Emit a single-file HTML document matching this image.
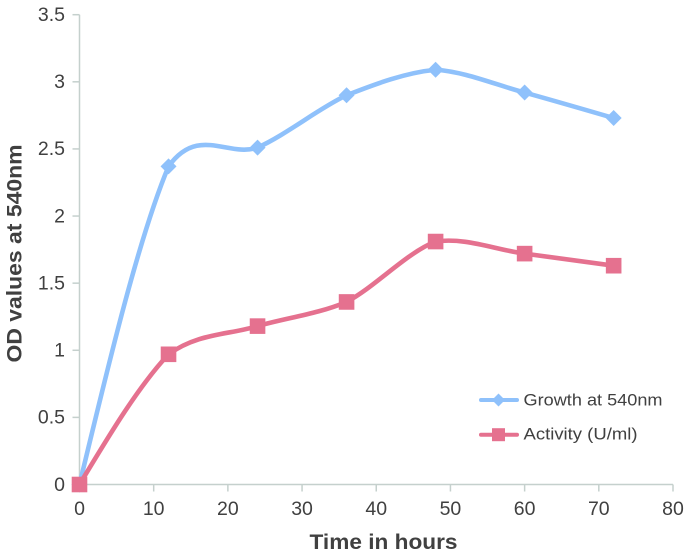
<!DOCTYPE html>
<html>
<head>
<meta charset="utf-8">
<style>
html,body{margin:0;padding:0;background:#fff;width:685px;height:558px;overflow:hidden}
svg{display:block;font-family:"Liberation Sans",sans-serif}
</style>
</head>
<body>
<svg id="chart" width="685" height="558" viewBox="0 0 685 558" xmlns="http://www.w3.org/2000/svg"></svg>
<script>
const hours = [0, 12, 24, 36, 48, 60, 72];
const growthValues = [0, 2.37, 2.51, 2.90, 3.09, 2.92, 2.73];
const activityValues = [0, 0.97, 1.18, 1.36, 1.81, 1.72, 1.63];
const xTicks = [0, 10, 20, 30, 40, 50, 60, 70, 80];
const yTicks = [0, 0.5, 1, 1.5, 2, 2.5, 3, 3.5];

const NS = 'http://www.w3.org/2000/svg';
const svg = document.getElementById('chart');
const X0 = 79.5, X1 = 673, Y0 = 484.5, Y1 = 14.7;
const xMax = xTicks[xTicks.length - 1], yMax = yTicks[yTicks.length - 1];
const xScale = function (v) { return X0 + (X1 - X0) * v / xMax; };
const yScale = function (v) { return Y0 - (Y0 - Y1) * v / yMax; };
const BLUE = '#8fc1fb', PINK = '#e5718f', AXIS = '#c5d0cd', INK = '#404040';

function mk(tag, attrs, parent) {
  const el = document.createElementNS(NS, tag);
  for (const k in attrs) el.setAttribute(k, attrs[k]);
  (parent || svg).appendChild(el);
  return el;
}

const axes = mk('g', {});



const yAxisLine = mk('line', {x1: X0, x2: X0, y1: Y1, y2: Y0, stroke: AXIS, 'stroke-width': 1.5}, axes);


const xAxisLine = mk('line', {x1: X0, x2: X1, y1: Y0, y2: Y0, stroke: AXIS, 'stroke-width': 1.5}, axes);



yTicks.forEach(function (t) {
  const y = yScale(t);
  const tick = mk('line', {x1: X0 - 7, x2: X0, y1: y, y2: y, stroke: AXIS, 'stroke-width': 1.5}, axes);
  
  
  const label = mk('text', {x: 65, y: y + 6.3, 'text-anchor': 'end', 'font-size': 19.5, fill: INK}, axes);
  
  
  label.textContent = String(t);
});

xTicks.forEach(function (t) {
  const x = xScale(t);
  const tick = mk('line', {x1: x, x2: x, y1: Y0, y2: Y0 + 7, stroke: AXIS, 'stroke-width': 1.5}, axes);
  
  
  const label = mk('text', {x: x, y: 515, 'text-anchor': 'middle', 'font-size': 19.5, fill: INK}, axes);
  
  
  label.textContent = String(t);
});

/* Smooth curve: each side of a point leans toward its own adjacent segment. */
function smoothPath(values) {
  const p = values.map(function (v, i) { return [xScale(hours[i]), yScale(v)]; });
  const seg = [];
  for (let i = 0; i < p.length - 1; i++) seg.push((p[i + 1][1] - p[i][1]) / (p[i + 1][0] - p[i][0]));
  const W = 0.65;
  let d = 'M' + p[0][0] + ' ' + p[0][1];
  for (let i = 0; i < seg.length; i++) {
    const h = (p[i + 1][0] - p[i][0]) / 3;
    let out, inn;
    const nextIn = i + 1 < seg.length ? W * seg[i] + (1 - W) * seg[i + 1] : null;
    const prevOut = i > 0 ? W * seg[i] + (1 - W) * seg[i - 1] : null;
    inn = nextIn !== null ? nextIn : (3 * seg[i] - prevOut) / 2;
    out = prevOut !== null ? prevOut : (3 * seg[i] - nextIn) / 2;
    d += ' C' + (p[i][0] + h) + ' ' + (p[i][1] + out * h) + ' ' +
      (p[i + 1][0] - h) + ' ' + (p[i + 1][1] - inn * h) + ' ' + p[i + 1][0] + ' ' + p[i + 1][1];
  }
  return d;
}

function diamond(cx, cy, r, color, parent) {
  return mk('polygon', {points: (cx - r) + ',' + cy + ' ' + cx + ',' + (cy - r) + ' ' + (cx + r) + ',' + cy + ' ' + cx + ',' + (cy + r), fill: color}, parent);
}
function square(cx, cy, r, color, parent) {
  return mk('rect', {x: cx - r, y: cy - r, width: 2 * r, height: 2 * r, fill: color}, parent);
}

const growthGroup = mk('g', {});


const growthLine = mk('path', {d: smoothPath(growthValues), fill: 'none', stroke: BLUE, 'stroke-width': 4.6, 'stroke-linecap': 'round'}, growthGroup);


growthValues.forEach(function (v, i) {
  const m = diamond(xScale(hours[i]), yScale(v), 8, BLUE, growthGroup);
  
  
});

const activityGroup = mk('g', {});


const activityLine = mk('path', {d: smoothPath(activityValues), fill: 'none', stroke: PINK, 'stroke-width': 4.6, 'stroke-linecap': 'round'}, activityGroup);


activityValues.forEach(function (v, i) {
  const m = square(xScale(hours[i]), yScale(v), 7.8, PINK, activityGroup);
  
  
});

const xTitle = mk('text', {x: 383.5, y: 549, 'text-anchor': 'middle', 'font-size': 21.5, 'font-weight': 'bold', fill: INK, textLength: 148, lengthAdjust: 'spacingAndGlyphs'});


xTitle.textContent = 'Time in hours';

const yTitle = mk('text', {transform: 'translate(21.5,253.5) rotate(-90)', 'text-anchor': 'middle', 'font-size': 21.5, 'font-weight': 'bold', fill: INK, textLength: 218, lengthAdjust: 'spacingAndGlyphs'});


yTitle.textContent = 'OD values at 540nm';

const legend = mk('g', {});



const legendGrowth = mk('g', {}, legend);


mk('line', {x1: 481, x2: 517, y1: 400, y2: 400, stroke: BLUE, 'stroke-width': 4, 'stroke-linecap': 'round'}, legendGrowth);
diamond(498.5, 400, 6.5, BLUE, legendGrowth);
const legendGrowthText = mk('text', {x: 523.5, y: 405.5, 'font-size': 16.5, fill: INK, textLength: 139, lengthAdjust: 'spacingAndGlyphs'}, legendGrowth);
legendGrowthText.textContent = 'Growth at 540nm';

const legendActivity = mk('g', {}, legend);


mk('line', {x1: 481, x2: 517, y1: 434.7, y2: 434.7, stroke: PINK, 'stroke-width': 4, 'stroke-linecap': 'round'}, legendActivity);
square(498.5, 434.7, 6.5, PINK, legendActivity);
const legendActivityText = mk('text', {x: 523.5, y: 439.5, 'font-size': 16.5, fill: INK, textLength: 114, lengthAdjust: 'spacingAndGlyphs'}, legendActivity);
legendActivityText.textContent = 'Activity (U/ml)';
</script>
</body>
</html>
